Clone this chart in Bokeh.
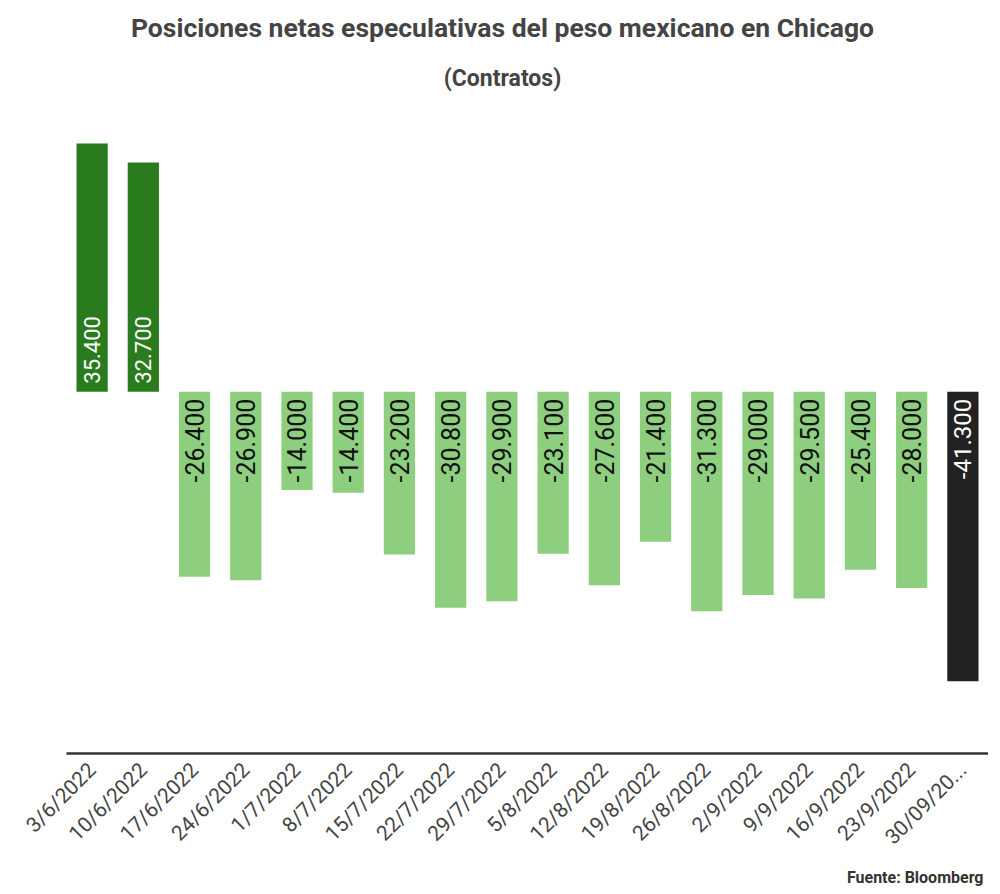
import math
from bokeh.plotting import figure
from bokeh.models import ColumnDataSource, Range1d, LabelSet, Label, Title
from bokeh.core.properties import value
from bokeh.embed import file_html
from bokeh.resources import INLINE

fechas = ["3/6/2022", "10/6/2022", "17/6/2022", "24/6/2022", "1/7/2022", "8/7/2022",
          "15/7/2022", "22/7/2022", "29/7/2022", "5/8/2022", "12/8/2022", "19/8/2022",
          "26/8/2022", "2/9/2022", "9/9/2022", "16/9/2022", "23/9/2022", "30/09/20..."]
posiciones = [35400, 32700, -26400, -26900, -14000, -14400, -23200, -30800, -29900,
              -23100, -27600, -21400, -31300, -29000, -29500, -25400, -28000, -41300]
etiquetas = ["35.400", "32.700", "-26.400", "-26.900", "-14.000", "-14.400", "-23.200",
             "-30.800", "-29.900", "-23.100", "-27.600", "-21.400", "-31.300", "-29.000",
             "-29.500", "-25.400", "-28.000", "-41.300"]
titulo = "Posiciones netas especulativas del peso mexicano en Chicago"
subtitulo = "(Contratos)"
fuente = "Fuente: Bloomberg"

DARK = "#2a7b1e"
LIGHT = "#8dcf7f"
BLACK = "#222222"

colores = []
txt_col = []
txt_fs = []
for i, v in enumerate(posiciones):
    if i == len(posiciones) - 1:
        colores.append(BLACK); txt_col.append("#ffffff"); txt_fs.append("24px")
    elif v >= 0:
        colores.append(DARK); txt_col.append("#ffffff"); txt_fs.append("22px")
    else:
        colores.append(LIGHT); txt_col.append("#111111"); txt_fs.append("25px")

pos_idx = [i for i, v in enumerate(posiciones) if v >= 0]
neg_idx = [i for i, v in enumerate(posiciones) if v < 0]

src = ColumnDataSource(dict(x=fechas, top=posiciones, color=colores))
src_pos = ColumnDataSource(dict(x=[fechas[i] for i in pos_idx], y=[0] * len(pos_idx),
                                lab=[etiquetas[i] for i in pos_idx], tc=[txt_col[i] for i in pos_idx],
                                fs=[txt_fs[i] for i in pos_idx]))
src_neg = ColumnDataSource(dict(x=[fechas[i] for i in neg_idx], y=[0] * len(neg_idx),
                                lab=[etiquetas[i] for i in neg_idx], tc=[txt_col[i] for i in neg_idx],
                                fs=[txt_fs[i] for i in neg_idx]))

p = figure(x_range=fechas, y_range=Range1d(-51600, 55800), width=988, height=891,
           output_backend="svg", toolbar_location=None,
           min_border_left=66, min_border_right=0, min_border_top=0, min_border_bottom=0)

# titles drawn inside the (extended) frame area
p.add_layout(Label(x=436, y=52003, x_units="screen", y_units="data", text=titulo,
                   text_align="center", text_baseline="middle", text_font="Roboto",
                   text_font_size="26.5px", text_font_style="bold", text_color="#444444"))
p.add_layout(Label(x=436, y=44706, x_units="screen", y_units="data", text=subtitulo,
                   text_align="center", text_baseline="middle", text_font="Roboto",
                   text_font_size="23px", text_font_style="bold", text_color="#444444"))

p.vbar(x="x", top="top", bottom=0, width=0.61, fill_color="color", line_color=None, source=src)

lp = LabelSet(x="x", y="y", text="lab", source=src_pos, angle=math.pi / 2, text_align="left",
              text_baseline="middle", x_offset=0, y_offset=8, text_color="tc",
              text_font=value("Roboto"), text_font_size="fs")
ln = LabelSet(x="x", y="y", text="lab", source=src_neg, angle=math.pi / 2, text_align="right",
              text_baseline="middle", x_offset=0, y_offset=-7, text_color="tc",
              text_font=value("Roboto"), text_font_size="fs")
p.add_layout(lp)
p.add_layout(ln)

p.yaxis.visible = False
p.grid.visible = False
p.outline_line_color = None
p.xaxis.axis_line_color = "#333333"
p.xaxis.axis_line_width = 2.5
p.xaxis.major_tick_line_color = None
p.xaxis.minor_tick_line_color = None
p.xaxis.major_label_orientation = math.pi / 4
p.xaxis.major_label_text_font = "Roboto"
p.xaxis.major_label_text_font_size = "21px"
p.xaxis.major_label_text_color = "#444444"
p.xaxis.major_label_standoff = 7
p.x_range.range_padding = 0

foot = Title(text=fuente, align="right", text_font="Roboto", text_font_size="16px",
             text_font_style="bold", text_color="#333333", standoff=10, offset=5)
p.add_layout(foot, "below")

open("out.html", "w").write(file_html(p, INLINE))
